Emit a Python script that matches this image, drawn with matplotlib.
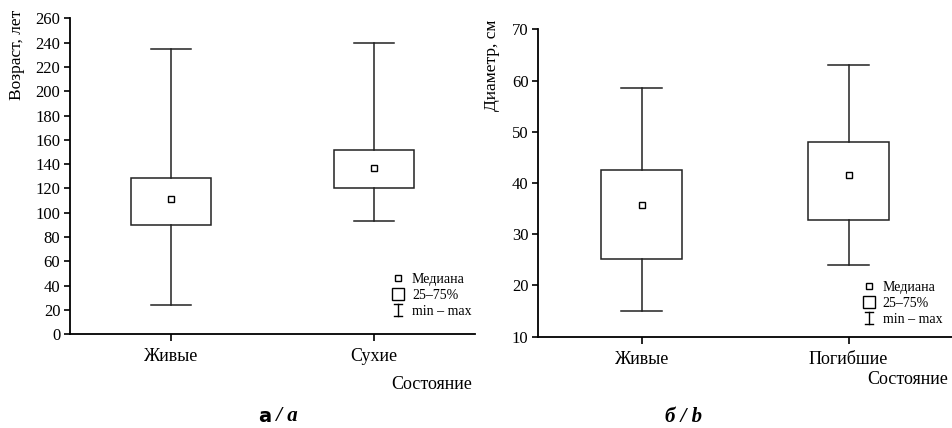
import matplotlib
matplotlib.use("Agg")
import matplotlib.pyplot as plt
from matplotlib.lines import Line2D
from matplotlib.legend_handler import HandlerBase

plt.rcParams['font.family'] = ['Liberation Serif', 'DejaVu Serif']

# ---- data ----
cats_a = ['Живые', 'Сухие']
age_min = [24, 93]
age_q1 = [90, 120]
age_med = [111, 137]
age_q3 = [129, 152]
age_max = [235, 240]

cats_b = ['Живые', 'Погибшие']
diam_min = [15, 24]
diam_q1 = [25.2, 32.7]
diam_med = [35.7, 41.6]
diam_q3 = [42.6, 48.0]
diam_max = [58.5, 63.0]

yticks_a = list(range(0, 261, 20))
yticks_b = list(range(10, 71, 10))

LC = '#222222'


class IBar:
    pass


class HandlerIBar(HandlerBase):
    def create_artists(self, legend, orig_handle, xdescent, ydescent,
                       width, height, fontsize, trans):
        cx = width / 2 - xdescent
        y0 = -0.08 * fontsize
        y1 = 0.78 * fontsize
        w = 0.3 * fontsize
        kw = dict(color='black', lw=1, transform=trans)
        return [Line2D([cx, cx], [y0, y1], **kw),
                Line2D([cx - w, cx + w], [y0, y0], **kw),
                Line2D([cx - w, cx + w], [y1, y1], **kw)]


def make_stats(lo, q1, med, q3, hi):
    return [dict(whislo=a, q1=b, med=c, q3=d, whishi=e, mean=c, fliers=[])
            for a, b, c, d, e in zip(lo, q1, med, q3, hi)]


def draw(ax, stats, cats, ylim, yticks, ylabel, width, capw,
         lab_coords, leg_anchor, state_pos):
    ax.bxp(stats, positions=[1, 2], widths=width, capwidths=capw,
           showmeans=True, meanline=False, showfliers=False, patch_artist=True,
           boxprops=dict(facecolor='white', edgecolor=LC, linewidth=1.1),
           whiskerprops=dict(color=LC, linewidth=1.1),
           capprops=dict(color=LC, linewidth=1.1),
           medianprops=dict(linewidth=0),
           meanprops=dict(marker='s', markersize=3.8, markerfacecolor='white',
                          markeredgecolor='black', markeredgewidth=1))
    ax.set_xlim(0.5, 2.5)
    ax.set_ylim(*ylim)
    ax.set_yticks(yticks)
    ax.set_xticks([1, 2])
    ax.set_xticklabels(cats)
    for s in ['top', 'right']:
        ax.spines[s].set_visible(False)
    for s in ['left', 'bottom']:
        ax.spines[s].set_linewidth(1.3)
        ax.spines[s].set_color('black')
    ax.tick_params(axis='y', direction='out', length=4.5, width=1.2,
                   pad=2.5, labelsize=12)
    ax.tick_params(axis='x', direction='out', length=5, width=1.2,
                   pad=5, labelsize=13)
    ax.set_ylabel(ylabel, fontsize=12.5, loc='top')
    ax.yaxis.set_label_coords(*lab_coords)
    ax.text(state_pos[0], state_pos[1], 'Состояние', transform=ax.transAxes,
            ha='right', va='center', fontsize=13)

    handles = [
        Line2D([], [], marker='s', linestyle='none', markersize=3.8,
               markerfacecolor='white', markeredgecolor='black',
               markeredgewidth=1),
        Line2D([], [], marker='s', linestyle='none', markersize=8.3,
               markerfacecolor='white', markeredgecolor='black',
               markeredgewidth=1),
        IBar(),
    ]
    labels = ['Медиана', '25–75%', 'min – max']
    ax.legend(handles, labels, handler_map={IBar: HandlerIBar()},
              loc='upper left', bbox_to_anchor=leg_anchor,
              bbox_transform=ax.transAxes, frameon=False, fontsize=10,
              borderpad=0, borderaxespad=0, handlelength=1.0,
              handletextpad=0.5, labelspacing=0.22)


fig = plt.figure(figsize=(9.52, 4.28), dpi=100)
ax1 = fig.add_axes([70 / 952, 1 - 334.3 / 428, 405 / 952, 316 / 428])
ax2 = fig.add_axes([538.3 / 952, 1 - 336.7 / 428, 413.7 / 952, 307.4 / 428])

draw(ax1, make_stats(age_min, age_q1, age_med, age_q3, age_max), cats_a,
     (0, 260), yticks_a, 'Возраст, лет', 0.394, 0.197,
     (-0.111, 1.026), (0.793, 0.1945), (0.993, -0.158))
draw(ax2, make_stats(diam_min, diam_q1, diam_med, diam_q3, diam_max), cats_b,
     (10, 70), yticks_b, 'Диаметр, см', 0.39, 0.2,
     (-0.092, 1.030), (0.782, 0.1805), (0.990, -0.140))

# panel labels
yb = 6 / 428
t1 = fig.text(258 / 952, yb, 'а', fontfamily='DejaVu Sans', fontweight='bold',
              fontsize=14, ha='left', va='baseline')
ax1.annotate(' / a', xy=(1, 0), xycoords=t1, va='bottom', ha='left',
             fontsize=15, fontweight='bold', fontstyle='italic',
             annotation_clip=False)
fig.text(684 / 952, yb, 'б / b', fontsize=15, fontweight='bold',
         fontstyle='italic', ha='center', va='baseline')

fig.savefig('out.png', dpi=100)
